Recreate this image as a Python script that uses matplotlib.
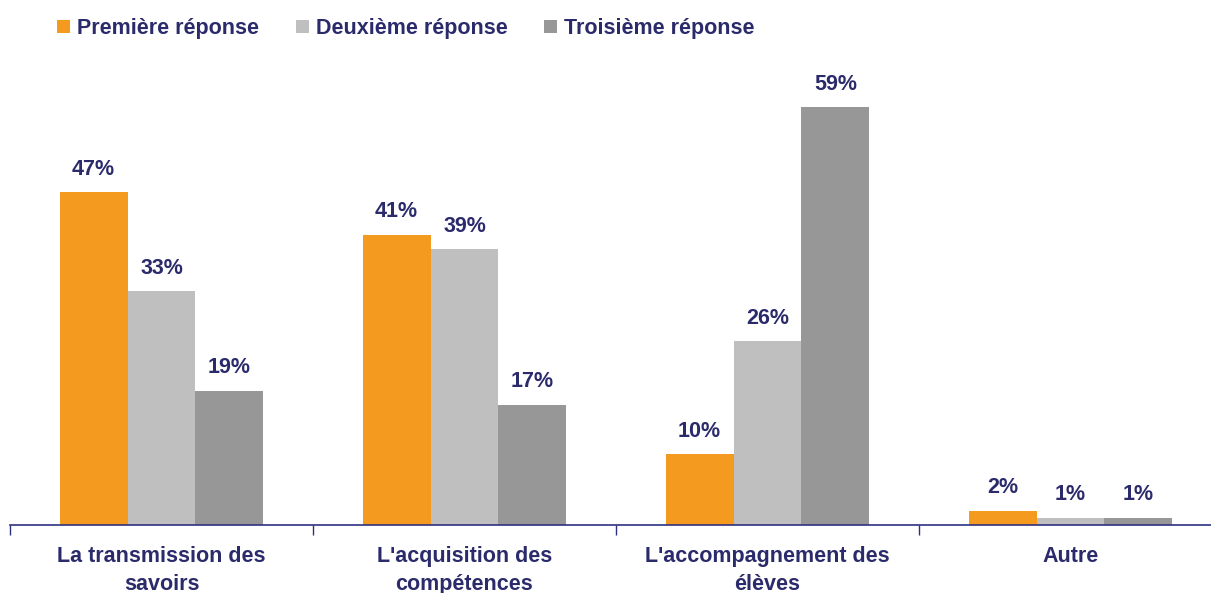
import matplotlib
matplotlib.use("Agg")
import matplotlib.pyplot as plt
import numpy as np

categories = ["La transmission des\nsavoirs", "L'acquisition des\ncompétences",
              "L'accompagnement des\nélèves", "Autre"]
series_names = ["Première réponse", "Deuxième réponse", "Troisième réponse"]
premiere = [47, 41, 10, 2]
deuxieme = [33, 39, 26, 1]
troisieme = [19, 17, 59, 1]
colors = ["#F39A1F", "#BFBFBF", "#979797"]
text_color = "#2B2A6B"

plt.rcParams['font.family'] = ['Liberation Sans', 'DejaVu Sans']

fig = plt.figure(figsize=(12.11, 5.93), dpi=100)
ax = fig.add_axes([10/1211, 68/593, 1212/1211, 460/593])

x = np.arange(len(categories))
w = 0.224
data = [premiere, deuxieme, troisieme]
handles = []
for i, (vals, c, name) in enumerate(zip(data, colors, series_names)):
    bars = ax.bar(x + (i - 1) * w, vals, width=w, color=c, label=name)
    handles.append(bars)
    for xi, v in zip(x + (i - 1) * w, vals):
        ax.annotate(f"{v}%", (xi, v), xytext=(0, 9), textcoords="offset points",
                    ha="center", va="bottom", fontsize=15.5, fontweight="bold",
                    color=text_color)

ax.set_xlim(-0.5, 3.5)
ax.set_ylim(0, 65)
ax.set_yticks([])
for s in ["top", "right", "left"]:
    ax.spines[s].set_visible(False)
ax.spines["bottom"].set_color("#2E3180")
ax.spines["bottom"].set_linewidth(1.2)

ax.set_xticks([-0.5, 0.5, 1.5, 2.5])
ax.set_xticklabels([])
ax.tick_params(axis="x", length=7, width=1, color="#2E3180", direction="out")
for xi, lab in zip(x, categories):
    ax.text(xi, -2.9, lab, ha="center", va="top", fontsize=15.5, fontweight="bold",
            color=text_color, linespacing=1.45, transform=ax.transData, clip_on=False)

leg = fig.legend(handles=handles, labels=series_names, loc="upper left",
                 bbox_to_anchor=(57/1211, 1 - 18/593), ncol=3, frameon=False,
                 borderpad=0, borderaxespad=0,
                 handlelength=0.6, handleheight=0.6, handletextpad=0.33,
                 columnspacing=1.7, prop={'size': 15.5, 'weight': 'bold'})
for t in leg.get_texts():
    t.set_color(text_color)

fig.savefig("out.png", dpi=100)
